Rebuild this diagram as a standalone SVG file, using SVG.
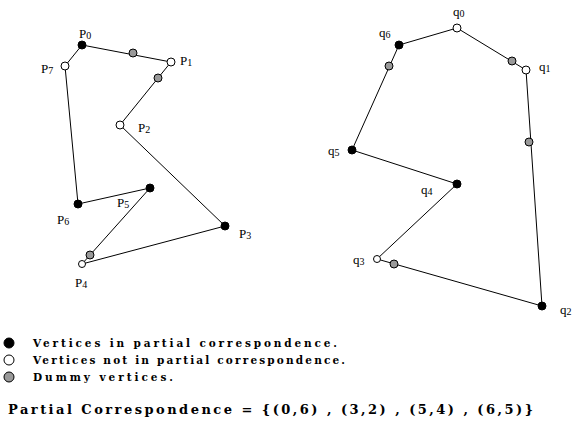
<svg xmlns="http://www.w3.org/2000/svg" width="574" height="421" viewBox="0 0 574 421">
<style>
.e{stroke:#000;stroke-width:1;fill:none}
.f{fill:#000;stroke:#000;stroke-width:1}
.o{fill:#fff;stroke:#000;stroke-width:1}
.d{fill:#999;stroke:#000;stroke-width:1}
.l{font-family:"Liberation Serif",serif;font-size:13px;fill:#000}
.s{font-size:10px}
.g{font-family:"DejaVu Serif",serif;font-weight:bold;font-size:10.5px;fill:#000}
.t{font-family:"DejaVu Serif",serif;font-weight:bold;font-size:13px;fill:#000}
</style>
<rect width="574" height="421" fill="#fff"/>
<g id="connectors">
<polygon class="e" points="82,45 171,62 120,125 225,226 82,264 150,188 78,204 65,66"/>
<polygon class="e" points="457,28 526,70 542,306 377,259 457,184 352,150 399,45"/>
</g>
<g id="P0"><circle class="f" cx="82" cy="45" r="4"/><text class="l" x="79" y="38">P<tspan class="s" dy="1">0</tspan></text></g>
<g id="P1"><circle class="o" cx="171" cy="62" r="4"/><text class="l" x="180" y="65">P<tspan class="s" dy="1">1</tspan></text></g>
<g id="P2"><circle class="o" cx="120" cy="125" r="4"/><text class="l" x="138" y="132">P<tspan class="s" dy="1">2</tspan></text></g>
<g id="P3"><circle class="f" cx="225" cy="226" r="4"/><text class="l" x="239" y="238">P<tspan class="s" dy="1">3</tspan></text></g>
<g id="P4"><circle class="o" cx="82" cy="264" r="3.5"/><text class="l" x="75" y="287">P<tspan class="s" dy="1">4</tspan></text></g>
<g id="P5"><circle class="f" cx="150" cy="188" r="4"/><text class="l" x="117" y="207">P<tspan class="s" dy="1">5</tspan></text></g>
<g id="P6"><circle class="f" cx="78" cy="204" r="4"/><text class="l" x="57" y="224">P<tspan class="s" dy="1">6</tspan></text></g>
<g id="P7"><circle class="o" cx="65" cy="66" r="4"/><text class="l" x="41" y="73">P<tspan class="s" dy="1">7</tspan></text></g>
<g id="dP01"><circle class="d" cx="133" cy="53" r="4"/></g>
<g id="dP12"><circle class="d" cx="158" cy="78" r="4"/></g>
<g id="dP45"><circle class="d" cx="90" cy="255" r="4"/></g>
<g id="q0"><circle class="o" cx="457" cy="28" r="4"/><text class="l" x="453" y="16">q<tspan class="s" dy="1">0</tspan></text></g>
<g id="q1"><circle class="o" cx="526" cy="70" r="4"/><text class="l" x="539" y="71">q<tspan class="s" dy="1">1</tspan></text></g>
<g id="q2"><circle class="f" cx="542" cy="306" r="4"/><text class="l" x="560" y="314">q<tspan class="s" dy="1">2</tspan></text></g>
<g id="q3"><circle class="o" cx="377" cy="259" r="3.5"/><text class="l" x="353" y="264">q<tspan class="s" dy="1">3</tspan></text></g>
<g id="q4"><circle class="f" cx="457" cy="184" r="4"/><text class="l" x="421" y="194">q<tspan class="s" dy="1">4</tspan></text></g>
<g id="q5"><circle class="f" cx="352" cy="150" r="4"/><text class="l" x="328" y="155">q<tspan class="s" dy="1">5</tspan></text></g>
<g id="q6"><circle class="f" cx="399" cy="45" r="4"/><text class="l" x="379" y="37">q<tspan class="s" dy="1">6</tspan></text></g>
<g id="dq01"><circle class="d" cx="512" cy="61" r="4"/></g>
<g id="dq12"><circle class="d" cx="529" cy="142" r="4"/></g>
<g id="dq23"><circle class="d" cx="394" cy="264" r="4"/></g>
<g id="dq56"><circle class="d" cx="389" cy="66" r="4"/></g>
<g id="legend">
<circle class="f" cx="9" cy="343" r="5"/>
<circle class="o" cx="9" cy="360" r="5"/>
<circle class="d" cx="9" cy="377" r="5"/>
<text class="g" x="33" y="347" textLength="304" lengthAdjust="spacing">Vertices in partial correspondence.</text>
<text class="g" x="33" y="364" textLength="312" lengthAdjust="spacing">Vertices not in partial correspondence.</text>
<text class="g" x="33" y="381" textLength="140" lengthAdjust="spacing">Dummy vertices.</text>
<text class="t" x="8" y="414" textLength="525" lengthAdjust="spacing">Partial Correspondence = {(0,6) , (3,2) , (5,4) , (6,5)}</text>
</g>
</svg>
